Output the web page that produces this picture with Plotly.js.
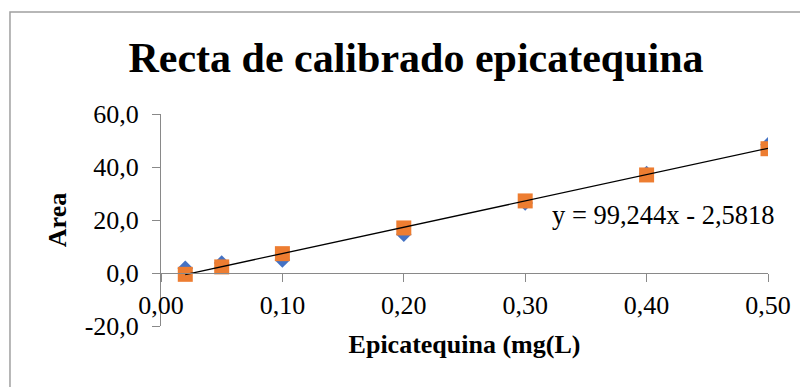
<!DOCTYPE html>
<html>
<head>
<meta charset="utf-8">
<script src="https://cdn.plot.ly/plotly-3.0.1.min.js"></script>
<style>html,body{margin:0;padding:0;background:#fff;}#chart{width:800px;height:387px;}</style>
</head>
<body>
<div id="chart"></div>
<script>
var concentration = [0.02, 0.05, 0.10, 0.20, 0.30, 0.40, 0.50];
var areaSeries1 = [1.8, 3.8, 4.9, 14.6, 26.4, 37.5, 48.4];
var areaSeries2 = [-0.5, 2.3, 7.3, 17.0, 27.2, 37.0, 46.9];
var slope = 99.244;
var intercept = -2.5818;
var trendX = [0.02, 0.50];
var xTickVals = [0, 0.1, 0.2, 0.3, 0.4, 0.5];
var xTickText = ['0,00', '0,10', '0,20', '0,30', '0,40', '0,50'];
var yTickVals = [-20, 0, 20, 40, 60];
var yTickText = ['-20,0', '0,0', '20,0', '40,0', '60,0'];
var equationText = 'y = 99,244x - 2,5818';

var trendY = trendX.map(function (x) { return slope * x + intercept; });
var serif = "'Liberation Serif', 'Times New Roman', serif";

var traces = [
  {x: concentration, y: areaSeries1, type: 'scatter', mode: 'markers',
   marker: {symbol: 'diamond', size: 12, color: '#4472C4'}, hoverinfo: 'x+y'},
  {x: concentration, y: areaSeries2, type: 'scatter', mode: 'markers',
   marker: {symbol: 'square', size: 15, color: '#ED7D31'}, hoverinfo: 'x+y'},
  {x: trendX, y: trendY, type: 'scatter', mode: 'lines',
   line: {color: '#000000', width: 1.3}, hoverinfo: 'skip'}
];

var layout = {
  width: 800, height: 387,
  margin: {l: 161, r: 32, t: 114, b: 61},
  paper_bgcolor: '#ffffff', plot_bgcolor: '#ffffff',
  showlegend: false,
  font: {family: serif, color: '#000000', size: 24},
  title: {text: '<b>Recta de calibrado epicatequina</b>',
          font: {family: serif, size: 42, color: '#000000'},
          x: 0.52, xanchor: 'center', xref: 'container',
          y: 0.853, yanchor: 'middle', yref: 'container'},
  xaxis: {range: [0, 0.5], anchor: 'free', position: 0.25,
          tickvals: xTickVals, ticktext: xTickText,
          ticks: 'outside', ticklen: 8, tickcolor: '#898989', tickwidth: 1,
          showline: true, linecolor: '#898989', linewidth: 1,
          showgrid: false, zeroline: false,
          tickfont: {family: serif, size: 26, color: '#000000'},
          ticklabelstandoff: 1,
          title: {text: '<b>Epicatequina (mg(L)</b>', standoff: 15,
                  font: {family: serif, size: 26, color: '#000000'}}},
  yaxis: {range: [-20, 60],
          tickvals: yTickVals, ticktext: yTickText,
          ticks: 'outside', ticklen: 8, tickcolor: '#898989', tickwidth: 1,
          showline: true, linecolor: '#898989', linewidth: 1,
          showgrid: false, zeroline: false,
          tickfont: {family: serif, size: 26, color: '#000000'},
          ticklabelstandoff: 8,
          title: {text: '<b>Area</b>', standoff: 10,
                  font: {family: serif, size: 26, color: '#000000'}}},
  annotations: [
    {x: 0.3206, y: 21.9, xref: 'x', yref: 'y', text: equationText,
     showarrow: false, xanchor: 'left', yanchor: 'middle',
     font: {family: serif, size: 26.5, color: '#000000'}}
  ],
  shapes: [
    {type: 'rect', xref: 'paper', yref: 'paper',
     x0: -0.2488, x1: 1.2, y0: -0.5, y1: 1.481,
     line: {color: '#a0a0a0', width: 1.5}, fillcolor: 'rgba(0,0,0,0)', layer: 'below'}
  ]
};

Plotly.newPlot('chart', traces, layout, {displayModeBar: false, staticPlot: true});
</script>
</body>
</html>
